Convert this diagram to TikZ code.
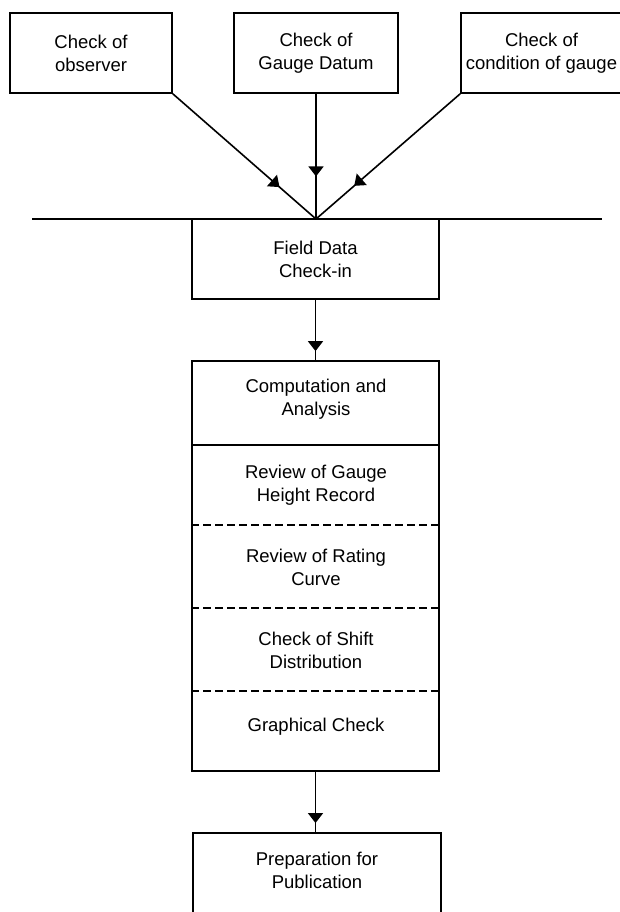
\documentclass[tikz,border=0pt]{standalone}
\usepackage{fontspec}
\setmainfont{Liberation Sans}
\usetikzlibrary{arrows.meta,decorations.markings}
\tikzset{
  ln/.style={line width=1.6pt},
  box/.style={draw,ln,rectangle,inner sep=0pt,align=center},
  txt/.style={inner sep=0pt,align=center},
  dsh/.style={ln,dash pattern=on 8pt off 4pt},
  midarrow/.style={ln,postaction={decorate},decoration={markings,
      mark=at position #1 with {\arrow{Triangle[width=15pt,length=10pt]}}}},
}
\begin{document}
\begin{tikzpicture}[x=1pt,y=-1pt,font=\fontsize{18.5}{23}\selectfont]
\useasboundingbox (0,0) rectangle (620,912);
% top boxes
\node[box,minimum width=162,minimum height=80] (b1) at (91,53) {Check of\\observer};
\node[box,minimum width=164,minimum height=80] (b2) at (316,53) {Check of\\Gauge Datum};
\node[box,minimum width=161,minimum height=80] (b3) at (541.5,53) {Check of\\condition of gauge};
% horizontal line and convergence point
\coordinate (conv) at (316,219);
\coordinate (hl) at (32,219);
\coordinate (hr) at (602,219);
\draw[ln] (hl) -- (hr);
\draw[midarrow=0.745] (b1.south east) -- (conv);
\draw[midarrow=0.66] (b2.south) -- (conv);
\draw[midarrow=0.735] (b3.south west) -- (conv);
% field data
\node[box,minimum width=247,minimum height=80] (fd) at (315.5,259) {Field Data\\Check-in};
% computation frame
\node[draw,ln,rectangle,inner sep=0pt,minimum width=247,minimum height=410] (comp) at (315.5,566) {};
\coordinate (d1) at (0,445);
\coordinate (d2) at (0,525);
\coordinate (d3) at (0,608);
\coordinate (d4) at (0,691);
\draw[ln] (comp.west |- d1) -- (comp.east |- d1);
\draw[dsh] (comp.west |- d2) -- (comp.east |- d2);
\draw[dsh] (comp.west |- d3) -- (comp.east |- d3);
\draw[dsh] (comp.west |- d4) -- (comp.east |- d4);
\node[txt] (r1) at (316,399) {Computation and\\Analysis};
\node[txt] (r2) at (316,485) {Review of Gauge\\Height Record};
\node[txt] (r3) at (316,567.5) {Review of Rating\\Curve};
\node[txt] (r4) at (316,650) {Check of Shift\\Distribution};
\node[txt] (r5) at (316,727) {Graphical Check};
% preparation (bottom edge outside the picture)
\node[txt,minimum width=248,minimum height=75] (prep) at (317,870.5) {Preparation for\\Publication};
\draw[ln] ([yshift=-20pt]prep.south west) -- (prep.north west) -- (prep.north east) -- ([yshift=-20pt]prep.south east);
% arrows
\draw[midarrow=0.85] (fd.south) -- (fd.south |- comp.north);
\draw[midarrow=0.84] (comp.south) -- (comp.south |- prep.north);
\end{tikzpicture}
\end{document}
